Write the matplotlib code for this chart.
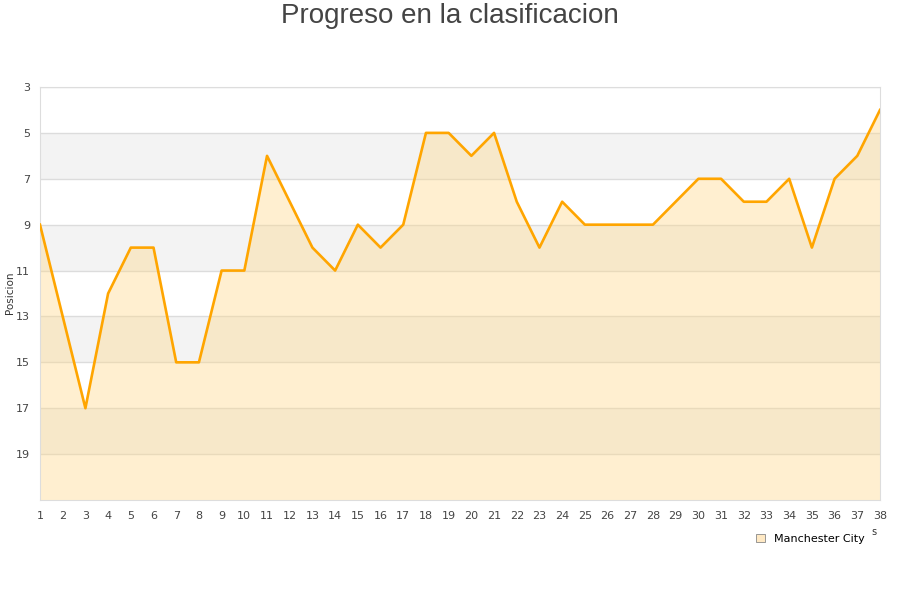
import matplotlib
matplotlib.use('Agg')
import matplotlib.pyplot as plt
from matplotlib.patches import Patch

# Jornadas y posicion en la tabla
jornadas = list(range(1, 39))
posicion = [9, 13, 17, 12, 10, 10, 15, 15, 11, 11,
            6, 8, 10, 11, 9, 10, 9, 5, 5, 6,
            5, 8, 10, 8, 9, 9, 9, 9, 8, 7,
            7, 8, 8, 7, 10, 7, 6, 4]
equipo = 'Manchester City'
yticks = [3, 5, 7, 9, 11, 13, 15, 17, 19]

fig = plt.figure(figsize=(9, 6), dpi=100)
ax = fig.add_axes([40/900, 100/600, 840/900, 413/600])

# bandas alternas
for y0 in [5, 9, 13, 17]:
    ax.axhspan(y0, y0 + 2, color='#f3f3f3', zorder=0, lw=0)
for y in yticks:
    ax.axhline(y, color='#dcdcdc', lw=1, zorder=1)

ax.fill_between(jornadas, posicion, 21, color='#ffd98a', alpha=0.4, lw=0, zorder=2)
ax.plot(jornadas, posicion, color='#ffa500', lw=1.9, zorder=3)

ax.set_xlim(1, 38)
ax.set_ylim(21, 3)
ax.set_xticks(jornadas)
ax.set_yticks(yticks)
ax.tick_params(axis='both', length=0, labelsize=8, colors='#444444', pad=8)
ax.tick_params(axis='y', pad=7)
for s in ax.spines.values():
    s.set_color('#dddddd')

fig.text(10/900, 1 - 293/600, 'Posicion', rotation=90, ha='center', va='center',
         fontsize=7.5, color='#333333')
fig.text(0.5, 1 - 16/600, 'Progreso en la clasificacion', ha='center', va='center',
         fontsize=20, color='#444444', family='Liberation Sans')
fig.text(874/900, 1 - 532/600, 's', ha='center', va='center', fontsize=7, color='#333333')

h = Patch(facecolor='#ffe9c4', edgecolor='#888888', lw=0.6)
fig.legend([h], [equipo], loc='center', bbox_to_anchor=(810/900, 1 - 539/600),
           frameon=False, fontsize=8, handlelength=0.8, handleheight=0.8, handletextpad=0.8)

fig.savefig('out.png', dpi=100)
